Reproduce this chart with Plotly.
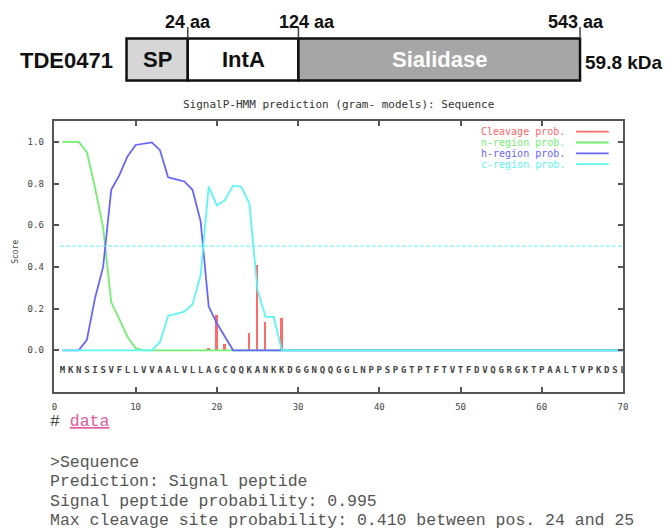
import plotly.graph_objects as go

W, H = 671, 531

# ---------------- data ----------------
protein_name = "TDE0471"
mass_label = "59.8 kDa"
domain_names = ["SP", "IntA", "Sialidase"]
domain_end_aa = [24, 124, 543]

sequence = "MKNSISVFLLVVAALVLLAGCQQKANKKDGGNQQGGLNPPSPGTPTFTVTFDVQGRGKTPAALTVPKDSL"
positions = list(range(1, len(sequence) + 1))

n_region = [1.0, 1.0, 1.0, 0.95, 0.78, 0.59, 0.23, 0.15, 0.065, 0.01] + [0.0] * 60
h_region = [0.0, 0.0, 0.0, 0.05, 0.25, 0.40, 0.77, 0.84, 0.93, 0.985, 0.99, 0.997,
            0.96, 0.83, 0.82, 0.81, 0.77, 0.62, 0.21, 0.13, 0.065] + [0.0] * 49
c_region = [0.0] * 12 + [0.04, 0.165, 0.175, 0.185, 0.22, 0.36, 0.785, 0.695, 0.72,
                         0.79, 0.785, 0.705, 0.29, 0.16, 0.16] + [0.0] * 43
cleavage_pos = [19, 20, 21, 24, 25, 26, 28]
cleavage_val = [0.01, 0.17, 0.03, 0.085, 0.41, 0.135, 0.155]
threshold = 0.5

x_ticks = [0, 10, 20, 30, 40, 50, 60, 70]
y_ticks = [0.0, 0.2, 0.4, 0.6, 0.8, 1.0]
y_ticktext = ["0.0", "0.2", "0.4", "0.6", "0.8", "1.0"]

legend_labels = ["Cleavage prob.", "n-region prob.", "h-region prob.", "c-region prob."]

result_lines = [
    ">Sequence",
    "Prediction: Signal peptide",
    "Signal peptide probability: 0.995",
    "Max cleavage site probability: 0.410 between pos. 24 and 25",
]

# ---------------- style ----------------
RED, GREEN, BLUE, CYAN = "#ff6a6a", "#72ee72", "#6666ff", "#5ef5f5"
series_colors = [RED, GREEN, BLUE, CYAN]
MONO = "DejaVu Sans Mono"
ARIAL = "Liberation Sans"


def X(px):
    return px / W


def Y(py):
    return 1 - py / H


def note(px, py, text, font, xanchor="center", yanchor="middle", **kw):
    return dict(x=X(px), y=Y(py), xref="paper", yref="paper", showarrow=False,
                xanchor=xanchor, yanchor=yanchor, text=text, font=font, **kw)


fig = go.Figure()

fig.add_trace(go.Bar(x=cleavage_pos, y=cleavage_val, width=0.3,
                     marker=dict(color=RED, line=dict(width=0)), showlegend=False))
for vals, col in [(n_region, GREEN), (h_region, BLUE), (c_region, CYAN)]:
    fig.add_trace(go.Scatter(x=positions, y=vals, mode="lines",
                             line=dict(color=col, width=1.8), showlegend=False))
fig.add_trace(go.Scatter(x=[positions[0] - 0.25, positions[-1]], y=[threshold, threshold],
                         mode="lines", line=dict(color=CYAN, width=1.2, dash="dot"),
                         showlegend=False))
fig.add_trace(go.Scatter(x=positions, y=[-0.1] * len(positions), mode="text",
                         text=list(sequence),
                         textfont=dict(family=MONO, size=9, color="#444", weight="bold"),
                         showlegend=False))

axis_common = dict(showline=True, linecolor="#555", linewidth=1.5, mirror="ticks",
                   ticks="inside", ticklen=5, tickwidth=1.5, tickcolor="#555",
                   showgrid=False, zeroline=False,
                   tickfont=dict(family=MONO, size=9, color="#444"))

fig.update_layout(
    width=W, height=H, autosize=False,
    margin=dict(l=0, r=0, t=0, b=0),
    paper_bgcolor="white", plot_bgcolor="white",
    bargap=0,
    xaxis=dict(domain=[X(52), X(627.5)], range=[0, 70], tickvals=x_ticks,
               ticklabelstandoff=5, **axis_common),
    yaxis=dict(domain=[Y(392), Y(121)], range=[-0.2, 1.1], tickvals=y_ticks,
               ticktext=y_ticktext, ticklabelstandoff=7, **axis_common),
)

annotations = []
shapes = []

# title and y label
annotations.append(note(340, 104, "SignalP-HMM prediction (gram- models): Sequence",
                        dict(family=MONO, size=11, color="#333")))
annotations.append(note(12, 252, "Score", dict(family=MONO, size=8, color="#444"),
                        textangle=-90))

# legend (gnuplot style)
for i, (lab, col) in enumerate(zip(legend_labels, series_colors)):
    yy = 131.7 + i * 10.8
    annotations.append(note(571, yy, lab, dict(family=MONO, size=10, color=col),
                            xanchor="right"))
    shapes.append(dict(type="line", xref="paper", yref="paper",
                       x0=X(580), x1=X(613), y0=Y(yy), y1=Y(yy),
                       line=dict(color=col, width=1.8)))

# '# data' link
annotations.append(note(46, 421.5, "# <span style='color:#e4579b'><u>data</u></span>",
                        dict(family="Liberation Mono", size=16.5, color="#444"),
                        xanchor="left"))
# result text
for i, line in enumerate(result_lines):
    annotations.append(note(46, 462.5 + i * 19.3, line,
                            dict(family="Liberation Mono", size=16.5, color="#555"),
                            xanchor="left"))

# ---------------- domain diagram (schematic, not to scale) ----------------
box_edges_px = [125, 187, 299, 584]
box_top, box_bot = 38.5, 80.5
box_fills = ["#d6d6d6", "#ffffff", "#a6a6a6"]
box_text_colors = ["#111", "#111", "#ffffff"]
for i, name in enumerate(domain_names):
    x0, x1 = box_edges_px[i], box_edges_px[i + 1]
    shapes.append(dict(type="rect", xref="paper", yref="paper",
                       x0=X(x0), x1=X(x1), y0=Y(box_bot), y1=Y(box_top),
                       fillcolor=box_fills[i], line=dict(color="#111", width=2.5)))
    annotations.append(note((x0 + x1) / 2, 60, "<b>%s</b>" % name,
                            dict(family=ARIAL, size=22, color=box_text_colors[i])))
# position markers
label_centers = [187.5, 308, 580]
for aa, edge, cx in zip(domain_end_aa, box_edges_px[1:], label_centers):
    shapes.append(dict(type="line", xref="paper", yref="paper",
                       x0=X(edge), x1=X(edge), y0=Y(27), y1=Y(box_top),
                       line=dict(color="#444", width=1.5)))
    annotations.append(note(cx, 22, "<b>%d aa</b>" % aa,
                            dict(family=ARIAL, size=18, color="#111")))

annotations.append(note(113, 61, "<b>%s</b>" % protein_name,
                        dict(family=ARIAL, size=22, color="#111"), xanchor="right"))
annotations.append(note(587, 62, "<b>%s</b>" % mass_label,
                        dict(family=ARIAL, size=19, color="#111"), xanchor="left"))

fig.update_layout(annotations=annotations, shapes=shapes)

fig.write_html("out.html", config={"displayModeBar": False},
               post_script="document.body.style.margin='0';document.body.style.overflow='hidden';")
